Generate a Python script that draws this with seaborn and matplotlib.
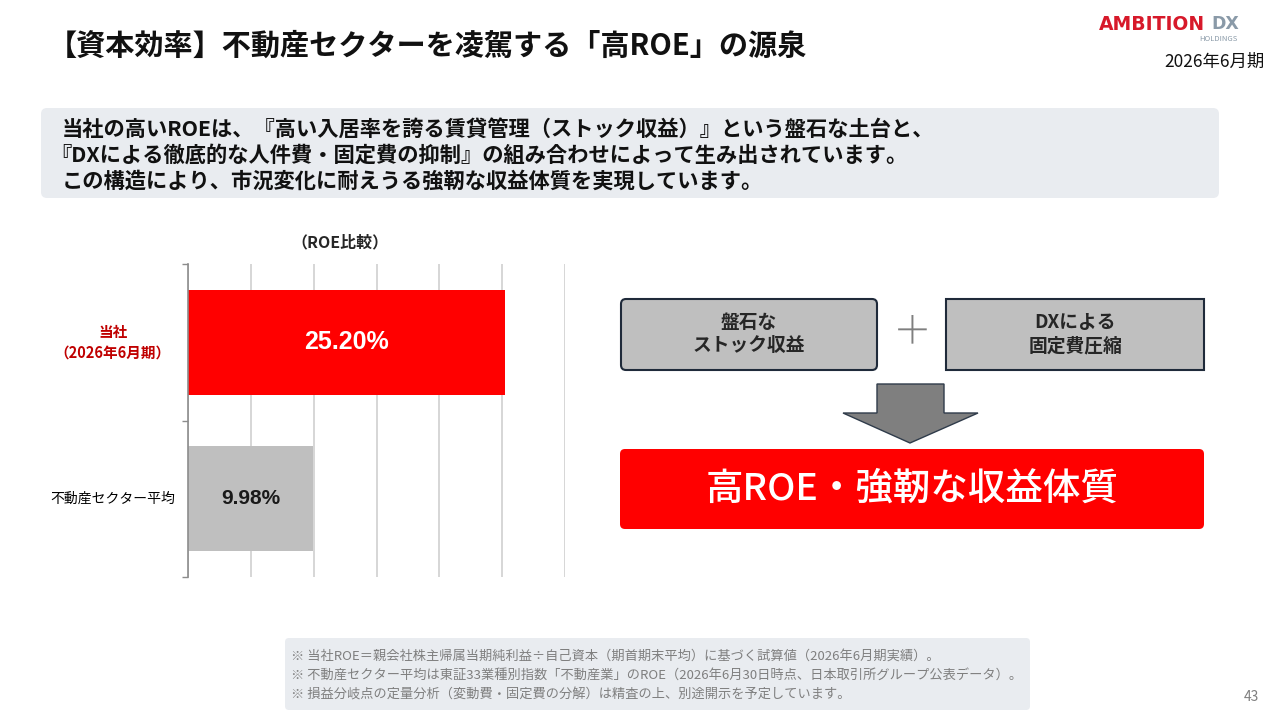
import matplotlib
matplotlib.use('Agg')
import matplotlib.pyplot as plt
import seaborn as sns
from matplotlib.patches import FancyBboxPatch, Rectangle, Polygon

# data
categories = ['当社\n（2026年6月期）', '不動産セクター平均']
roe = [25.20, 9.98]
bar_colors = ['#ff0000', '#bfbfbf']
label_colors = ['#c00000', '#000000']
value_colors = ['white', '#1a1a1a']
grid_ticks = [0, 5, 10, 15, 20, 25, 30]

title = '【資本効率】不動産セクターを凌駕する「高ROE」の源泉'
summary = ['当社の高いROEは、『高い入居率を誇る賃貸管理（ストック収益）』という盤石な土台と、',
           '『DXによる徹底的な人件費・固定費の抑制』の組み合わせによって生み出されています。',
           'この構造により、市況変化に耐えうる強靭な収益体質を実現しています。']
notes = ['※ 当社ROE＝親会社株主帰属当期純利益÷自己資本（期首期末平均）に基づく試算値（2026年6月期実績）。',
         '※ 不動産セクター平均は東証33業種別指数「不動産業」のROE（2026年6月30日時点、日本取引所グループ公表データ）。',
         '※ 損益分岐点の定量分析（変動費・固定費の分解）は精査の上、別途開示を予定しています。']

sns.set_theme(style='white')
plt.rcParams['font.family'] = ['Noto Sans CJK JP', 'DejaVu Sans']

fig = plt.figure(figsize=(12.8, 7.2), dpi=100)
fig.patch.set_facecolor('white')

# background layer in pixel coordinates
bg = fig.add_axes([0, 0, 1, 1], zorder=0)
bg.set_xlim(0, 1280)
bg.set_ylim(720, 0)
bg.axis('off')

bg.text(48, 46, title, fontsize=21, fontweight='bold', va='center', ha='left', color='#111111')
bg.text(1205, 24, 'AMBITION', fontsize=13.5, fontweight='heavy', color='#d7192a',
        ha='right', va='center', family=['DejaVu Sans'])
bg.text(1211, 24, 'DX', fontsize=12.5, fontweight='heavy', color='#8a9aa8',
        ha='left', va='center', family=['DejaVu Sans'])
bg.text(1237, 39, 'HOLDINGS', fontsize=5.5, color='#8a9aa8', ha='right', va='center')
bg.text(1265, 62, '2026年6月期', fontsize=12.5, color='#111111', ha='right', va='center')

bg.add_patch(FancyBboxPatch((43, 110), 1174, 86, boxstyle='round,pad=2,rounding_size=6',
                            facecolor='#e9ecf0', edgecolor='none'))
for i, line in enumerate(summary):
    bg.text(62 if i != 1 else 50, 129 + i * 26, line, fontsize=15.3, fontweight='bold',
            va='center', ha='left', color='#111111')

bg.text(340, 242, '（ROE比較）', fontsize=11.5, fontweight='bold', ha='center', va='center')

# footnotes
bg.add_patch(FancyBboxPatch((287, 640), 741, 68, boxstyle='round,pad=2,rounding_size=4',
                            facecolor='#e9ecf0', edgecolor='none'))
for i, line in enumerate(notes):
    bg.text(291, 656 + i * 19.5, line, fontsize=9.5, color='#7f7f7f', ha='left', va='center')
bg.text(1259, 697, '43', fontsize=10, color='#7f7f7f', ha='right', va='center')

# diagram
bg.add_patch(FancyBboxPatch((621, 299), 256, 71, boxstyle='round,pad=0,rounding_size=5',
                            facecolor='#bfbfbf', edgecolor='#1f2a3a', linewidth=1.5))
bg.text(749, 334, '盤石な\nストック収益', fontsize=13.5, fontweight='bold', ha='center',
        va='center', linespacing=1.3)
bg.add_patch(Rectangle((946, 299), 258, 71, facecolor='#bfbfbf', edgecolor='#1f2a3a',
                       linewidth=1.5))
bg.text(1075, 334, 'DXによる\n固定費圧縮', fontsize=13.5, fontweight='bold', ha='center',
        va='center', linespacing=1.3)
bg.text(912, 333, '＋', fontsize=28, fontweight='light', color='#7f7f7f', ha='center',
        va='center')
bg.add_patch(Polygon([(877, 384), (944, 384), (944, 413), (978, 413), (910, 443),
                      (843, 413), (877, 413)], closed=True, facecolor='#7f7f7f',
                     edgecolor='#2f3b4a', linewidth=1))
bg.add_patch(FancyBboxPatch((620, 449), 584, 80, boxstyle='round,pad=0,rounding_size=5',
                            facecolor='#ff0000', edgecolor='none'))
bg.text(912, 489, '高ROE・強靭な収益体質', fontsize=27, fontweight='medium', color='white',
        ha='center', va='center')

# bar chart
ax = fig.add_axes([188 / 1280, (720 - 577) / 720, 377 / 1280, 313 / 720], zorder=1)
ax.set_facecolor('none')
sns.barplot(x=roe, y=list(range(len(categories))), hue=list(range(len(categories))),
            palette=bar_colors, orient='h', width=0.67, legend=False, ax=ax,
            saturation=1, linewidth=0)
ax.set_xlim(grid_ticks[0], grid_ticks[-1])
ax.set_ylim(1.5, -0.5)
ax.set_xticks(grid_ticks)
ax.set_xticklabels([])
ax.tick_params(axis='x', length=0)
ax.grid(axis='x', color='#d0d0d0', linewidth=1.2)
ax.grid(axis='y', visible=False)
ax.set_axisbelow(True)
ax.set_yticks([-0.5, 0.5, 1.5])
ax.set_yticklabels([])
ax.tick_params(axis='y', length=4, width=1, color='#8c8c8c', left=True)
for s in ['top', 'right', 'bottom']:
    ax.spines[s].set_visible(False)
ax.spines['left'].set_color('#8c8c8c')
ax.spines['left'].set_linewidth(1.2)
ax.set_xlabel('')
ax.set_ylabel('')

tr = ax.get_yaxis_transform()
ax.text(-0.2, 0, categories[0], transform=tr, ha='center', va='center', fontsize=10.5,
        fontweight='bold', color=label_colors[0], linespacing=1.3)
ax.text(-0.035, 1, categories[1], transform=tr, ha='right', va='center', fontsize=10,
        color=label_colors[1])
for i, v in enumerate(roe):
    ax.text(v / 2, i, f'{v:.2f}%', ha='center', va='center', fontsize=18 if i == 0 else 15,
            fontweight='bold', color=value_colors[i], family=['Liberation Sans'])

fig.savefig('out.png', dpi=100)
